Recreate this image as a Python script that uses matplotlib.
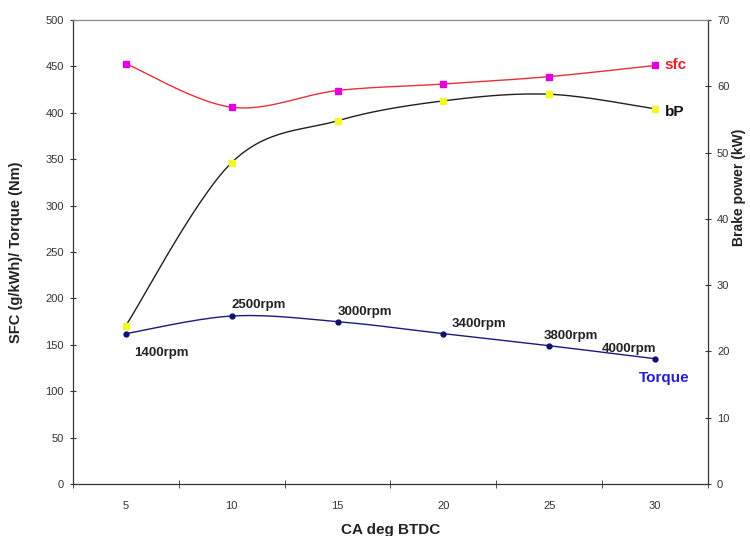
import numpy as np
import matplotlib.pyplot as plt

plt.rcParams['font.family'] = ['Liberation Sans', 'DejaVu Sans']

# Data
ca_deg = [5, 10, 15, 20, 25, 30]
rpm_labels = ["1400rpm", "2500rpm", "3000rpm", "3400rpm", "3800rpm", "4000rpm"]
sfc = [453, 406, 424, 431, 439, 451]          # g/kWh (left axis)
torque = [162, 181, 175, 162, 149, 135]       # Nm (left axis)
brake_power = [23.9, 48.5, 54.8, 57.8, 58.8, 56.6]  # kW (right axis)


def smooth(x, y, n=30):
    # Bezier smoothing through the points (like a spreadsheet "smoothed line")
    x = np.asarray(x, float)
    y = np.asarray(y, float)
    px = np.concatenate([[x[0]], x, [x[-1]]])
    py = np.concatenate([[y[0]], y, [y[-1]]])
    xs, ys = [], []
    t = np.linspace(0, 1, n)
    for i in range(len(x) - 1):
        p0 = np.array([px[i + 1], py[i + 1]])
        p3 = np.array([px[i + 2], py[i + 2]])
        c1 = p0 + (np.array([px[i + 2], py[i + 2]]) - np.array([px[i], py[i]])) / 6
        c2 = p3 - (np.array([px[i + 3], py[i + 3]]) - np.array([px[i + 1], py[i + 1]])) / 6
        b = ((1 - t) ** 3)[:, None] * p0 + (3 * (1 - t) ** 2 * t)[:, None] * c1 \
            + (3 * (1 - t) * t ** 2)[:, None] * c2 + (t ** 3)[:, None] * p3
        xs.extend(b[:, 0])
        ys.extend(b[:, 1])
    return xs, ys


idx = np.arange(len(ca_deg))

fig = plt.figure(figsize=(7.5, 5.36), dpi=100)
ax = fig.add_axes([0.0973, 0.097, 0.8467, 0.8657])
ax2 = ax.twinx()

# SFC
sx, sy = smooth(idx, sfc)
ax.plot(sx, sy, color="#e8303a", lw=1.0, zorder=3)
ax.plot(idx, sfc, ls="none", marker="s", ms=5, color="#e000e0", zorder=4)

# Torque
tx, ty = smooth(idx, torque)
ax.plot(tx, ty, color="#1a1a80", lw=1.0, zorder=3)
ax.plot(idx, torque, ls="none", marker="o", ms=3.5, color="#10106a", zorder=4)

# Brake power
bx, by = smooth(idx, brake_power)
ax2.plot(bx, by, color="#202020", lw=1.0, zorder=3)
ax2.plot(idx, brake_power, ls="none", marker="s", ms=5, color="#f4f82a", zorder=4)

# rpm annotations
offsets = [(6, -14), (0, 8), (0, 7), (6, 7), (0, 7), (-8, 7)]
shift = [0.0, 0.0, 0.0, 0.0, -0.05, -0.4]
for i, lab in enumerate(rpm_labels):
    ax.annotate(lab, (idx[i] + shift[i], torque[i]), xytext=offsets[i],
                textcoords="offset points", ha="left", va="center",
                fontsize=9.5, fontweight="bold", color="#222222")

ax.annotate("sfc", (idx[-1], sfc[-1]), xytext=(7, 0), textcoords="offset points",
            va="center", fontsize=11, fontweight="bold", color="#e8202a")
ax2.annotate("bP", (idx[-1], brake_power[-1]), xytext=(7, -2), textcoords="offset points",
             va="center", fontsize=11, fontweight="bold", color="#111111")
ax.annotate("Torque", (idx[-1], torque[-1]), xytext=(-12, -14), textcoords="offset points",
            va="center", fontsize=11, fontweight="bold", color="#2020d0")

# Axes
ax.set_xlim(-0.5, len(ca_deg) - 0.5)
ax.set_ylim(0, 500)
ax2.set_ylim(0, 70)
ax.set_xticks(idx)
ax.set_xticklabels(ca_deg)
ax.set_xticks(np.arange(-0.5, len(ca_deg), 1), minor=True)
ax.tick_params(axis="x", which="major", length=0, pad=12, labelsize=8, colors="#333333")
ax.tick_params(axis="x", which="minor", length=6, direction="inout", color="#333333")
ax.set_yticks(range(0, 501, 50))
ax.tick_params(axis="y", length=5, direction="inout", labelsize=8, colors="#333333", pad=4)
ax2.set_yticks(range(0, 71, 10))
ax2.tick_params(axis="y", length=5, direction="inout", labelsize=8, colors="#333333", pad=4)

for a in (ax, ax2):
    a.spines["top"].set_color("#888888")
    a.spines["top"].set_linewidth(0.8)
    a.spines["left"].set_color("#333333")
    a.spines["right"].set_color("#333333")
    a.spines["bottom"].set_color("#333333")

ax.set_xlabel("CA deg BTDC", fontsize=11, fontweight="bold", color="#222222")
ax.xaxis.set_label_coords(0.5, -0.085)
ax.set_ylabel("SFC (g/kWh)/ Torque (Nm)", fontsize=10.5, fontweight="bold", color="#222222")
ax.yaxis.set_label_coords(-0.078, 0.5)
ax2.set_ylabel("Brake power (kW)", fontsize=10, fontweight="bold", color="#222222")
ax2.yaxis.set_label_coords(1.038, 0.64)

fig.savefig("out.png", dpi=100)
